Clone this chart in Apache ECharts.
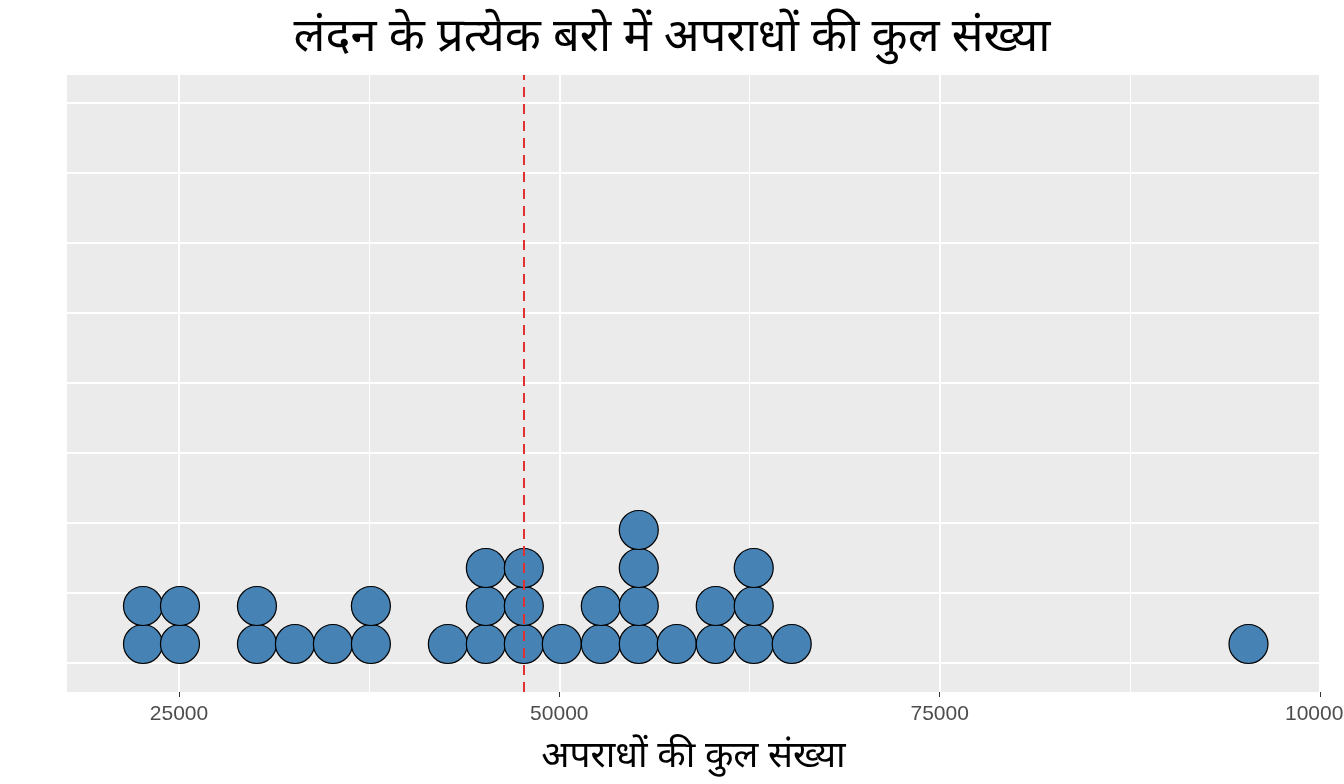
<!DOCTYPE html>
<html>
<head>
<meta charset="utf-8">
<script src="https://cdn.jsdelivr.net/npm/echarts@6/dist/echarts.min.js"></script>
<style>html,body{margin:0;padding:0;background:#fff}#chart{width:1344px;height:784px}</style>
</head>
<body>
<div id="chart"></div>
<script>
// one column of dots per value, count = number of stacked dots
var crimeValues = [22635, 25066, 30125, 32622, 35118, 37615, 42674, 45171, 47668, 50164, 52727, 55223, 57720, 60282, 62779, 65276, 95300];
var stackCounts = [2, 2, 2, 1, 1, 2, 1, 3, 3, 1, 2, 4, 1, 2, 3, 1, 1];
var meanValue = 47668;
var xTicks = [25000, 50000, 75000, 100000];
var xMinorGrid = [37500, 62500, 87500];
var yGrid = [29, 99, 169, 239, 309, 379, 449, 519, 589];

var dots = [];
crimeValues.forEach(function(v, i) {
	for (var k = 0; k < stackCounts[i]; k++) {
		dots.push([v, 48 + k * 38]);
	}
});

var gridLines = [];
yGrid.forEach(function(y) { gridLines.push({ yAxis: y, lineStyle: { width: 2 } }); });
xTicks.forEach(function(x) { gridLines.push({ xAxis: x, lineStyle: { width: 2 } }); });
xMinorGrid.forEach(function(x) { gridLines.push({ xAxis: x, lineStyle: { width: 1 } }); });

var myChart = echarts.init(document.getElementById('chart'));
myChart.setOption({
	backgroundColor: '#fff',
	title: {
		text: 'लंदन के प्रत्येक बरो में अपराधों की कुल संख्या',
		left: 'center', top: 9,
		textStyle: { fontFamily: 'Noto Sans, sans-serif', fontSize: 47, fontWeight: 'normal', color: '#000' }
	},
	grid: { left: 67, right: 24, top: 75, bottom: 92, show: true, backgroundColor: '#EBEBEB', borderWidth: 0,
		containLabel: false, outerBoundsMode: 'none' },
	xAxis: {
		type: 'value', min: 17640, max: 100000,
		name: 'अपराधों की कुल संख्या', nameLocation: 'middle', nameGap: 46,
		nameTextStyle: { fontFamily: 'Noto Sans, sans-serif', fontSize: 37, color: '#000' },
		axisLine: { show: false },
		axisTick: { show: true, customValues: xTicks, length: 5, lineStyle: { color: '#333' } },
		axisLabel: { customValues: xTicks, color: '#4d4d4d', fontSize: 21, margin: 12, showMaxLabel: true,
			formatter: function(v) { return String(v); } },
		splitLine: { show: false }
	},
	yAxis: {
		type: 'value', min: 0, max: 617,
		axisLine: { show: false }, axisTick: { show: false }, axisLabel: { show: false },
		splitLine: { show: false }
	},
	series: [{
		type: 'scatter',
		data: dots,
		symbolSize: 39,
		itemStyle: { color: '#4682B4', borderColor: '#000', borderWidth: 1.2, opacity: 1 },
		markLine: {
			silent: true, symbol: 'none', label: { show: false },
			lineStyle: { color: '#fff', type: 'solid' },
			z: 1,
			data: gridLines
		},
		z: 3
	}, {
		type: 'scatter', data: [],
		markLine: {
			silent: true, symbol: 'none', label: { show: false },
			lineStyle: { color: '#e03030', type: [10, 7], width: 2 },
			data: [{ xAxis: meanValue }]
		},
		z: 4
	}]
});
</script>
</body>
</html>
